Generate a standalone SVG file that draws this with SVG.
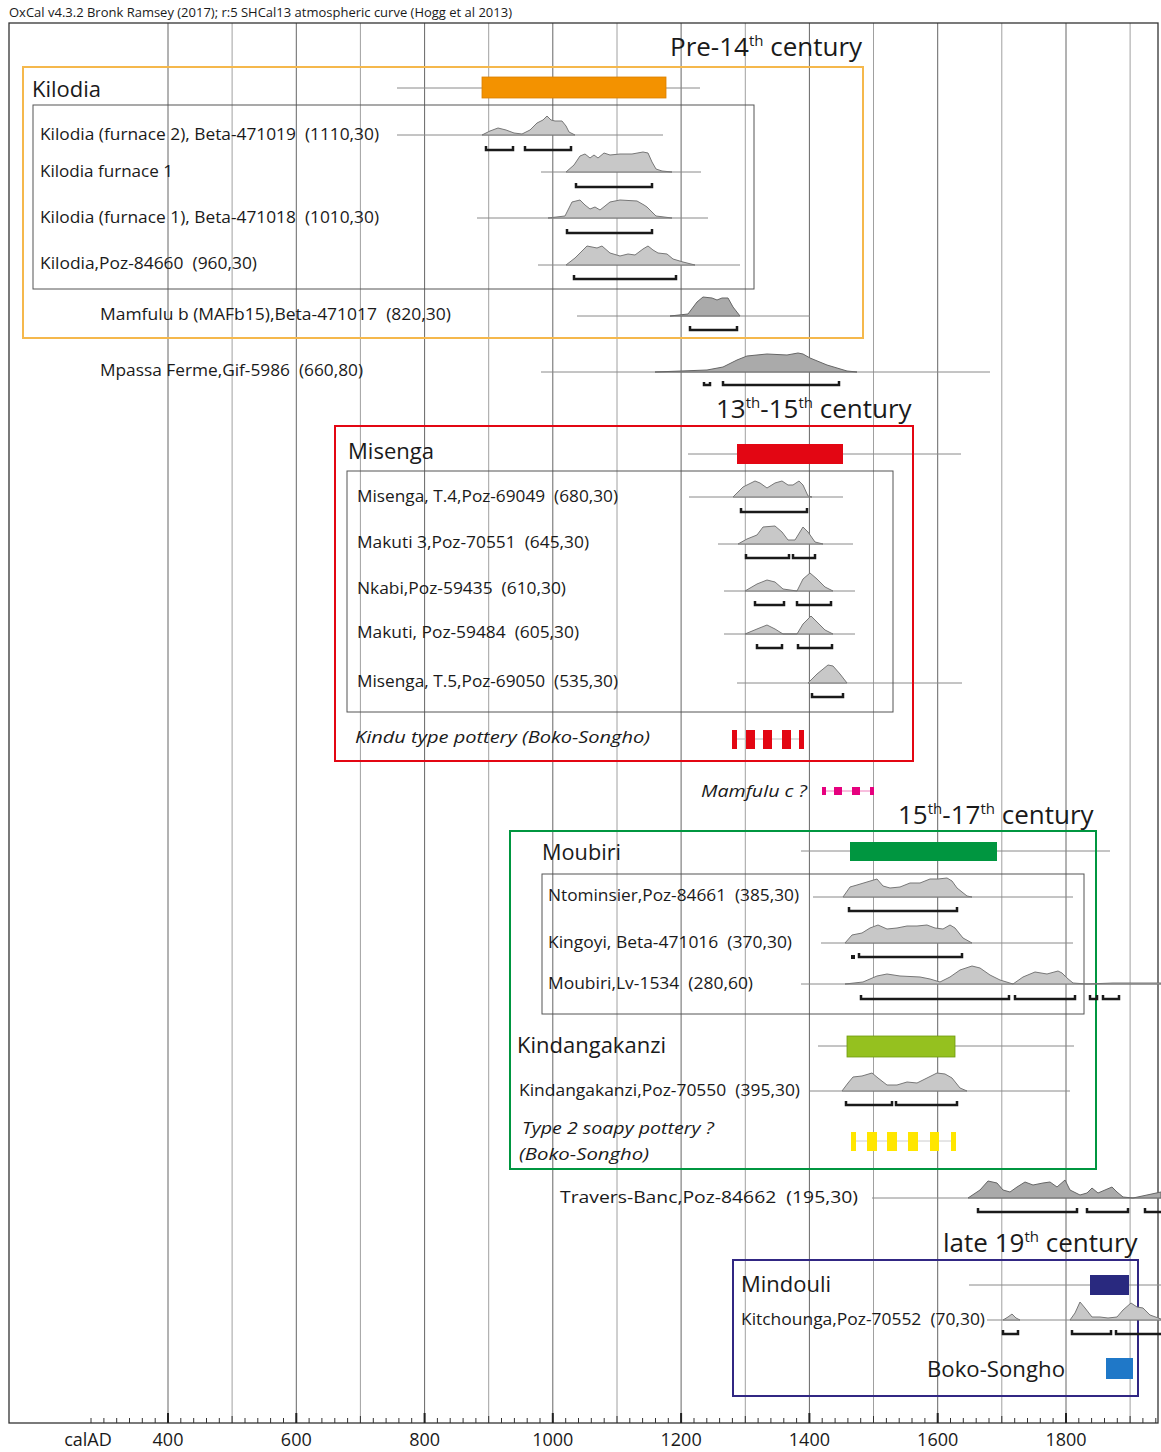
<svg xmlns="http://www.w3.org/2000/svg" width="1161" height="1452" viewBox="0 0 1161 1452">
<style>
.t{font-family:"Open Sans","Noto Sans",sans-serif;fill:#1a1a1a}
.lbl{font-size:16px;white-space:pre}
.it{font-style:italic}
.grp{font-size:21px}
.ttl{font-size:26px}
.sup{font-size:15px}
.ax{font-size:18px}
.g1{stroke:#666;stroke-width:1}
.g2{stroke:#a0a0a0;stroke-width:1}
.base{stroke:#8a8a8a;stroke-width:1;fill:none}
.dist{fill:#c8c8c8;stroke:#777;stroke-width:1}
.distd{fill:#aaaaaa;stroke:#666;stroke-width:1}
.br{fill:none;stroke:#1a1a1a;stroke-width:2.5}
.inner{fill:none;stroke:#555;stroke-width:1}
</style>
<rect width="1161" height="1452" fill="#fff"/>
<text class="t" x="9" y="17" font-size="13" textLength="503" lengthAdjust="spacingAndGlyphs">OxCal v4.3.2 Bronk Ramsey (2017); r:5 SHCal13 atmospheric curve (Hogg et al 2013)</text>

<g id="grid">
<path class="g1" d="M168,23V1423M296.3,23V1423M424.6,23V1423M552.8,23V1423M681.1,23V1423M809.4,23V1423M937.7,23V1423M1066,23V1423"/>
<path class="g2" d="M232.1,23V1423M360.4,23V1423M488.7,23V1423M617,23V1423M745.3,23V1423M873.5,23V1423M1001.8,23V1423M1130.1,23V1423"/>
<rect x="9" y="23" width="1149" height="1400" fill="none" stroke="#333" stroke-width="1.3"/>
<path stroke="#333" stroke-width="1" d="M91,1423v-5M103.9,1423v-5M116.7,1423v-5M129.5,1423v-5M142.3,1423v-5M155.2,1423v-5M180.8,1423v-5M193.7,1423v-5M206.5,1423v-5M219.3,1423v-5M245,1423v-5M257.8,1423v-5M270.6,1423v-5M283.5,1423v-5M309.1,1423v-5M321.9,1423v-5M334.8,1423v-5M347.6,1423v-5M373.3,1423v-5M386.1,1423v-5M398.9,1423v-5M411.7,1423v-5M437.4,1423v-5M450.2,1423v-5M463.1,1423v-5M475.9,1423v-5M501.5,1423v-5M514.4,1423v-5M527.2,1423v-5M540,1423v-5M565.7,1423v-5M578.5,1423v-5M591.3,1423v-5M604.2,1423v-5M629.8,1423v-5M642.6,1423v-5M655.5,1423v-5M668.3,1423v-5M694,1423v-5M706.8,1423v-5M719.6,1423v-5M732.4,1423v-5M758.1,1423v-5M770.9,1423v-5M783.8,1423v-5M796.6,1423v-5M822.2,1423v-5M835.1,1423v-5M847.9,1423v-5M860.7,1423v-5M886.4,1423v-5M899.2,1423v-5M912,1423v-5M924.9,1423v-5M950.5,1423v-5M963.3,1423v-5M976.2,1423v-5M989,1423v-5M1014.7,1423v-5M1027.5,1423v-5M1040.3,1423v-5M1053.1,1423v-5M1078.8,1423v-5M1091.6,1423v-5M1104.5,1423v-5M1117.3,1423v-5M1142.9,1423v-5M1155.8,1423v-5M232.1,1423v-7M360.4,1423v-7M488.7,1423v-7M617,1423v-7M745.3,1423v-7M873.5,1423v-7M1001.8,1423v-7M1130.1,1423v-7"/>
<path stroke="#222" stroke-width="2" d="M168,1423v-10M296.3,1423v-10M424.6,1423v-10M552.8,1423v-10M681.1,1423v-10M809.4,1423v-10M937.7,1423v-10M1066,1423v-10"/>
<g class="t ax" text-anchor="middle">
<text x="88" y="1446">calAD</text>
<text x="168" y="1446">400</text>
<text x="296.3" y="1446">600</text>
<text x="424.6" y="1446">800</text>
<text x="552.8" y="1446">1000</text>
<text x="681.1" y="1446">1200</text>
<text x="809.4" y="1446">1400</text>
<text x="937.7" y="1446">1600</text>
<text x="1066" y="1446">1800</text>
</g>
</g>

<g id="connectors">
<path class="base" d="M397,88H482M666,88H700M688,454H737M843,454H961M801,851H850M997,851H1110M818,1046H847M955,1046H1074M969,1285H1090M1129,1285H1161"/>
<path class="base" d="M397,135H663M541,172H701M477,218H708M538,265H740M577,316H810M541,372H990M689,497H843M718,544H853M724,591H855M724,634H855M737,683H962M813,897H1073M821,943H1073M801,984H1161M810,1091H1070M872,1198H1161M987,1320H1161"/>
</g>

<g id="pre14">
<text class="t ttl" x="670" y="56">Pre-14<tspan class="sup" dy="-10">th</tspan><tspan dy="10"> century</tspan></text>
<rect x="23" y="67" width="840" height="271" fill="none" stroke="#f5b84c" stroke-width="2"/>
<g id="kilodia">
<text class="t grp" x="32" y="97" textLength="69" lengthAdjust="spacingAndGlyphs">Kilodia</text>
<rect x="482" y="77" width="184" height="21" fill="#f39200" stroke="#d98000" stroke-width="0.8"/>
<rect class="inner" x="33" y="105" width="721" height="184"/>
</g>
<g id="kf2">
<text class="t lbl" x="40" y="140" textLength="339" lengthAdjust="spacingAndGlyphs">Kilodia (furnace 2), Beta-471019  (1110,30)</text>
<path class="dist" d="M482,135 L490,131 498,128 506,130 514,133 522,134 530,130 537,123 543,120 547,116 551,120 555,121 562,121 566,126 569,132 575,135 Z"/>
<path class="br" d="M486,146V150H513V146M525,146V150H571V146"/>
</g>
<g id="kf1">
<text class="t lbl" x="40" y="177" textLength="133" lengthAdjust="spacingAndGlyphs">Kilodia furnace 1</text>
<path class="dist" d="M566,172 L574,165 580,156 585,154 590,158 594,155 598,158 604,153 610,155 620,154 632,154 643,152 648,153 652,162 656,169 662,171 672,172 Z"/>
<path class="br" d="M576,183V187H652V183"/>
</g>
<g id="kf1b">
<text class="t lbl" x="40" y="223" textLength="339" lengthAdjust="spacingAndGlyphs">Kilodia (furnace 1), Beta-471018  (1010,30)</text>
<path class="dist" d="M548,218 L565,216 572,202 580,200 585,205 590,209 595,207 600,210 610,202 620,200 637,201 644,205 647,207 652,212 656,216 664,217 672,218 Z"/>
<path class="br" d="M567,229V233H652V229"/>
</g>
<g id="kpoz">
<text class="t lbl" x="40" y="269" textLength="217" lengthAdjust="spacingAndGlyphs">Kilodia,Poz-84660  (960,30)</text>
<path class="dist" d="M566,265 L575,258 587,246 597,248 602,246 610,253 620,256 628,254 635,255 643,249 648,246 653,250 658,253 667,254 673,259 683,262 695,265 Z"/>
<path class="br" d="M574,275V279H676V275"/>
</g>
<g id="mamfulub">
<text class="t lbl" x="100" y="320" textLength="351" lengthAdjust="spacingAndGlyphs">Mamfulu b (MAFb15),Beta-471017  (820,30)</text>
<path class="distd" d="M670,316 L688,314 697,302 703,297 712,298 717,300 722,298 728,298 733,307 740,316 Z"/>
<path class="br" d="M690,326V330H737V326"/>
</g>
</g>

<g id="mpassa">
<text class="t lbl" x="100" y="376" textLength="263" lengthAdjust="spacingAndGlyphs">Mpassa Ferme,Gif-5986  (660,80)</text>
<path class="distd" d="M655,372 L707,370 723,367 737,360 747,356 767,354 787,355 798,353 803,354 810,358 827,365 847,371 857,372 Z"/>
<path class="br" d="M704,382V385H710V382M723,381V385H839V381"/>
</g>

<g id="c13-15">
<text class="t ttl" x="716" y="418">13<tspan class="sup" dy="-10">th</tspan><tspan dy="10">-15</tspan><tspan class="sup" dy="-10">th</tspan><tspan dy="10"> century</tspan></text>
<rect x="335" y="426" width="578" height="335" fill="none" stroke="#e30613" stroke-width="2"/>
<g id="misenga">
<text class="t grp" x="348" y="459" textLength="86" lengthAdjust="spacingAndGlyphs">Misenga</text>
<rect x="737" y="444" width="106" height="20" fill="#e30613"/>
<rect class="inner" x="347" y="471" width="546" height="241"/>
</g>
<g id="mt4">
<text class="t lbl" x="357" y="502" textLength="261" lengthAdjust="spacingAndGlyphs">Misenga, T.4,Poz-69049  (680,30)</text>
<path class="dist" d="M733,497 L743,487 755,481 760,483 767,488 775,483 782,481 788,485 793,485 799,481 803,485 808,496 812,497 Z"/>
<path class="br" d="M741,508V512H807V508"/>
</g>
<g id="mak3">
<text class="t lbl" x="357" y="548" textLength="232" lengthAdjust="spacingAndGlyphs">Makuti 3,Poz-70551  (645,30)</text>
<path class="dist" d="M738,544 L747,539 757,535 763,527 775,526 782,532 788,540 795,540 803,527 808,532 815,542 823,544 Z"/>
<path class="br" d="M746,554V558H789V554M793,554V558H815V554"/>
</g>
<g id="nkabi">
<text class="t lbl" x="357" y="594" textLength="209" lengthAdjust="spacingAndGlyphs">Nkabi,Poz-59435  (610,30)</text>
<path class="dist" d="M745,591 L757,584 767,580 775,582 783,589 797,591 803,579 810,573 817,579 825,587 833,591 Z"/>
<path class="br" d="M755,601V605H784V601M797,601V605H831V601"/>
</g>
<g id="makuti">
<text class="t lbl" x="357" y="638" textLength="222" lengthAdjust="spacingAndGlyphs">Makuti, Poz-59484  (605,30)</text>
<path class="dist" d="M745,634 L757,629 767,625 775,629 783,634 797,634 803,624 811,616 817,622 825,630 833,634 Z"/>
<path class="br" d="M757,644V648H782V644M798,644V648H832V644"/>
</g>
<g id="mt5">
<text class="t lbl" x="357" y="687" textLength="261" lengthAdjust="spacingAndGlyphs">Misenga, T.5,Poz-69050  (535,30)</text>
<path class="dist" d="M808,683 L817,674 828,665 833,666 840,674 847,683 Z"/>
<path class="br" d="M812,693V697H843V693"/>
</g>
<g id="kindu">
<text class="t lbl it" x="355" y="743" textLength="295" lengthAdjust="spacingAndGlyphs">Kindu type pottery (Boko-Songho)</text>
<path stroke="#bbb" stroke-width="1" d="M732,739H804"/>
<path fill="#e30613" d="M732,730h5v19h-5zM746,730h9v19h-9zM763,730h9v19h-9zM782,730h9v19h-9zM799,730h5v19h-5z"/>
</g>
</g>

<g id="mamfuluc">
<text class="t lbl it" x="701" y="797" textLength="106" lengthAdjust="spacingAndGlyphs">Mamfulu c ?</text>
<path stroke="#e6007e" stroke-width="1" opacity="0.5" d="M822,791H874"/>
<path fill="#e6007e" d="M822,787h4v8h-4zM834,787h8v8h-8zM852,787h8v8h-8zM870,787h4v8h-4z"/>
</g>

<g id="c15-17">
<text class="t ttl" x="898" y="824">15<tspan class="sup" dy="-10">th</tspan><tspan dy="10">-17</tspan><tspan class="sup" dy="-10">th</tspan><tspan dy="10"> century</tspan></text>
<rect x="510" y="831" width="586" height="338" fill="none" stroke="#009640" stroke-width="2"/>
<g id="moubiri">
<text class="t grp" x="542" y="860" textLength="79" lengthAdjust="spacingAndGlyphs">Moubiri</text>
<rect x="850" y="842" width="147" height="19" fill="#009640"/>
<rect class="inner" x="542" y="874" width="542" height="140"/>
</g>
<g id="ntom">
<text class="t lbl" x="548" y="901" textLength="251" lengthAdjust="spacingAndGlyphs">Ntominsier,Poz-84661  (385,30)</text>
<path class="dist" d="M843,897 L850,887 857,885 867,882 877,879 883,886 890,888 900,887 910,883 920,883 930,879 938,879 947,878 952,881 957,888 967,896 972,897 Z"/>
<path class="br" d="M849,907V911H957V907"/>
</g>
<g id="kingoyi">
<text class="t lbl" x="548" y="948" textLength="244" lengthAdjust="spacingAndGlyphs">Kingoyi, Beta-471016  (370,30)</text>
<path class="dist" d="M845,943 L852,935 862,933 870,928 878,925 887,929 897,928 907,926 917,926 927,925 935,928 943,929 950,925 955,928 963,938 972,943 Z"/>
<rect x="851" y="955" width="4" height="4" fill="#1a1a1a"/>
<path class="br" d="M859,953V957H962V953"/>
</g>
<g id="moulv">
<text class="t lbl" x="548" y="989" textLength="205" lengthAdjust="spacingAndGlyphs">Moubiri,Lv-1534  (280,60)</text>
<path class="dist" d="M845,984 L863,982 877,976 887,974 900,976 920,977 930,979 940,982 950,977 960,970 972,966 980,968 990,975 1000,980 1013,984 1023,977 1035,972 1047,974 1058,971 1062,973 1067,978 1073,983 1087,984 1113,983 1161,983 L1161,984 Z"/>
<path class="br" d="M861,995V999H1009V995M1015,995V999H1075V995M1090,995V999H1097V995M1103,995V999H1119V995"/>
</g>
<g id="kindang">
<text class="t grp" x="517" y="1053" textLength="149" lengthAdjust="spacingAndGlyphs">Kindangakanzi</text>
<rect x="847" y="1036" width="108" height="21" fill="#95c11f" stroke="#6f9a10" stroke-width="0.8"/>
</g>
<g id="kindpoz">
<text class="t lbl" x="519" y="1096" textLength="281" lengthAdjust="spacingAndGlyphs">Kindangakanzi,Poz-70550  (395,30)</text>
<path class="dist" d="M842,1091 L848,1083 853,1077 862,1076 872,1073 878,1078 887,1085 897,1085 907,1082 917,1083 927,1078 937,1073 945,1074 952,1078 960,1088 967,1091 Z"/>
<path class="br" d="M846,1101V1105H892V1101M896,1101V1105H957V1101"/>
</g>
<g id="soapy">
<text class="t lbl it" x="522" y="1134" textLength="192" lengthAdjust="spacingAndGlyphs">Type 2 soapy pottery ?</text>
<text class="t lbl it" x="519" y="1160" textLength="130" lengthAdjust="spacingAndGlyphs">(Boko-Songho)</text>
<path stroke="#ccc" stroke-width="1" d="M851,1141H956"/>
<path fill="#ffe600" d="M851,1132h5v19h-5zM867,1132h10v19h-10zM887,1132h10v19h-10zM908,1132h10v19h-10zM930,1132h9v19h-9zM951,1132h5v19h-5z"/>
</g>
</g>

<g id="travers">
<text class="t lbl" x="560" y="1203" textLength="298" lengthAdjust="spacingAndGlyphs">Travers-Banc,Poz-84662  (195,30)</text>
<path class="distd" d="M968,1198 L980,1190 988,1181 997,1183 1003,1190 1010,1192 1017,1187 1025,1182 1033,1185 1043,1183 1050,1182 1057,1187 1065,1180 1070,1190 1080,1195 1087,1193 1092,1188 1098,1193 1105,1190 1112,1187 1117,1192 1123,1197 1133,1198 1147,1195 1161,1192 L1161,1198 Z"/>
<path class="br" d="M978,1208V1212H1077V1208M1087,1208V1212H1128V1208M1145,1208V1212H1161"/>
</g>

<g id="late19">
<text class="t ttl" x="943" y="1252">late 19<tspan class="sup" dy="-10">th</tspan><tspan dy="10"> century</tspan></text>
<rect x="733" y="1260" width="405" height="136" fill="none" stroke="#312783" stroke-width="2"/>
<g id="mindouli">
<text class="t grp" x="741" y="1292" textLength="90" lengthAdjust="spacingAndGlyphs">Mindouli</text>
<rect x="1090" y="1275" width="39" height="20" fill="#29297f"/>
</g>
<g id="kitch">
<text class="t lbl" x="741" y="1325" textLength="244" lengthAdjust="spacingAndGlyphs">Kitchounga,Poz-70552  (70,30)</text>
<path class="dist" d="M1003,1320 L1008,1317 1012,1314 1016,1318 1020,1320 Z"/>
<path class="dist" d="M1070,1320 L1075,1313 1080,1302 1085,1308 1092,1317 1100,1317 1108,1318 1117,1317 1123,1310 1131,1303 1137,1307 1143,1308 1150,1315 1161,1319 L1161,1320 Z"/>
<path class="br" d="M1003,1330V1334H1018V1330M1072,1330V1334H1111V1330M1116,1330V1334H1161"/>
</g>
<g id="boko">
<text class="t grp" x="927" y="1377" textLength="138" lengthAdjust="spacingAndGlyphs">Boko-Songho</text>
<rect x="1106" y="1358" width="27" height="21" fill="#1f78c8"/>
</g>
</g>
</svg>
